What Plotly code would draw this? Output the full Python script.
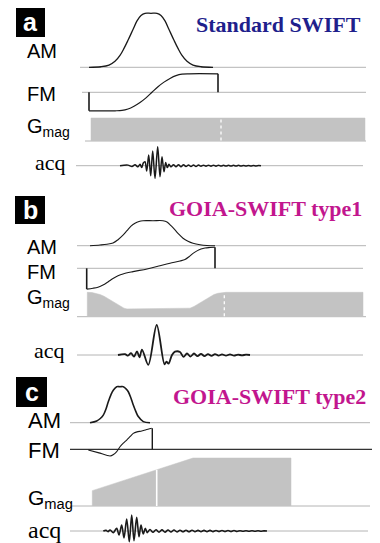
import plotly.graph_objects as go

# reference canvas and page offset (browser body margin)
REF_W, REF_H = 380, 543
OFF = 8
W, H = REF_W - OFF, REF_H - OFF

# ---------------- data (time in a.u., amplitudes normalised) ----------------
# Panel a : Standard SWIFT
a_am_t = [89, 101, 109, 115, 120, 124, 128, 133, 137, 141, 145, 151, 157, 161, 165, 169, 174, 178, 182, 187, 193, 201, 213]
a_am_v = [0, 0.01, 0.04, 0.11, 0.22, 0.35, 0.5, 0.70, 0.86, 0.96, 1.0, 1.0, 1.0, 0.96, 0.86, 0.70, 0.5, 0.35, 0.22, 0.11, 0.04, 0.01, 0]

a_fm_t = [89, 115, 122, 128, 134, 140, 146, 152, 158, 164, 170, 176, 182, 189, 218]
a_fm_v = [-1, -1, -0.98, -0.9, -0.75, -0.55, -0.3, 0, 0.3, 0.55, 0.75, 0.9, 0.98, 1, 1]

a_g_t = [91, 91, 365, 365]
a_g_v = [0, 1, 1, 0]
a_g_mark = 221

a_acq_t = [120, 128, 132, 135, 138, 140, 141.7, 143.3, 145, 146.7, 148.7, 150.7, 152.7, 155, 157.7, 160, 162, 164, 165.7, 167.3, 169,
           171, 173.5, 176, 178.5, 181, 183.5, 186, 188.5, 191, 193.5, 196, 198.5, 201, 203.5, 206, 208.5, 211, 213.5, 216, 218.5,
           221, 223.5, 226, 228.5, 231, 233.5, 236, 238.5, 241, 243.5, 246, 248.5, 251, 253.5, 256, 258.5, 261]
a_acq_v = [0, 0.03, -0.04, 0.05, -0.06, 0.08, -0.1, 0.14, 0.21, -0.28, 0.56, -0.53, 0.77, -0.67, 1.0, -0.58, 0.47, -0.32, 0.17, -0.1, 0.07,
           -0.06, 0.05, -0.05, 0.05, -0.05, 0.05, -0.04, 0.04, -0.04, 0.04, -0.04, 0.04, -0.03, 0.03, -0.03, 0.03, -0.03, 0.03, -0.03, 0.03,
           -0.02, 0.02, -0.02, 0.02, -0.02, 0.02, -0.02, 0.02, -0.02, 0.01, -0.01, 0.01, -0.01, 0.01, -0.01, 0.005, 0]

# Panel b : GOIA-SWIFT type1
b_am_t = [90, 100, 107, 113, 118, 123, 127, 131, 135, 139, 143, 153, 163, 167, 171, 175, 179, 183, 188, 193, 200, 207, 215]
b_am_v = [0, 0.03, 0.06, 0.11, 0.24, 0.42, 0.6, 0.78, 0.9, 0.97, 1.0, 1.0, 1.0, 0.95, 0.8, 0.63, 0.45, 0.3, 0.18, 0.1, 0.04, 0.01, 0]

b_fm_t = [86.7, 93, 98, 103, 108, 113, 118, 123, 133, 147, 160, 170, 180, 185, 189, 193, 197, 201, 205, 210, 215]
b_fm_v = [-0.99, -0.95, -0.9, -0.8, -0.65, -0.49, -0.36, -0.27, -0.16, -0.03, 0.12, 0.24, 0.35, 0.42, 0.55, 0.71, 0.83, 0.92, 0.97, 0.99, 1.0]

b_g_t = [87.3, 87.3, 92, 96, 100, 104, 108, 112, 116, 120, 124, 127, 186.7, 190, 194, 198, 202, 206, 210, 214, 218, 222, 226, 363, 363]
b_g_v = [0, 1.0, 0.99, 0.96, 0.91, 0.84, 0.74, 0.63, 0.52, 0.42, 0.35, 0.32, 0.32, 0.35, 0.42, 0.52, 0.63, 0.74, 0.84, 0.91, 0.96, 0.99, 1.0, 1.0, 0]
b_g_mark = 224.3

b_acq_t = [118, 125, 128, 131, 134, 137, 139.5, 142, 148.3, 156.7, 164.5, 166.5, 168.5, 172, 175, 180, 183.5, 187, 190.5, 194, 197.5,
           201, 204.5, 208, 211.5, 215, 218.5, 222, 226, 230, 234, 238, 242, 246, 250]
b_acq_v = [0, 0.03, -0.02, 0.06, -0.05, 0.12, -0.08, 0.18, -0.33, 1.0, -0.31, -0.22, -0.29, 0.0, 0.11, 0.1, -0.06, 0.05, -0.05, 0.05, -0.04,
           0.04, -0.04, 0.03, -0.03, 0.03, -0.02, 0.02, -0.02, 0.02, -0.02, 0.01, -0.01, 0.01, 0]

# Panel c : GOIA-SWIFT type2
c_am_t = [90, 96.7, 100, 103.3, 106, 108.3, 111, 113.3, 116.7, 120, 123.3, 126, 128.3, 131, 133.3, 136, 138.3, 143.3, 150]
c_am_v = [0, 0.05, 0.11, 0.21, 0.38, 0.58, 0.78, 0.9, 1.0, 1.0, 1.0, 0.94, 0.86, 0.68, 0.49, 0.3, 0.17, 0.03, 0]

c_fm_t = [88.3, 99, 110, 113.5, 116.7, 120, 123.3, 126.7, 130, 133.3, 137, 141.7, 146, 151.7]
c_fm_v = [-0.03, -0.17, -0.32, -0.25, -0.11, 0.12, 0.29, 0.44, 0.6, 0.76, 0.83, 0.87, 0.93, 1.0]

c_g_t = [92.3, 92.3, 193, 291, 291]
c_g_v = [0, 0.32, 1.0, 1.0, 0]
c_g_mark = 156.7
c_g_mark_v = 0.755

c_acq_t = [103.3, 106, 108, 110, 113.3, 116.7, 119, 121.7, 124, 126.7, 129.3, 131.7, 134, 136.7, 139, 141, 143.3, 145.3, 147.3,
           150, 153, 156, 159, 162, 165, 168, 171, 174, 177, 180, 183, 186, 189, 192, 195, 198, 201, 204, 207,
           210, 213, 216, 219, 222, 225, 228, 231, 234, 237, 240, 243, 246, 249, 252, 255, 258, 261, 264, 267]
c_acq_v = [0, 0.04, -0.04, 0.06, -0.1, 0.17, -0.25, 0.37, -0.44, 0.75, -0.67, 1.0, -0.6, 0.86, -0.36, 0.37, -0.19, 0.17, -0.1,
           0.09, -0.08, 0.08, -0.07, 0.07, -0.07, 0.06, -0.06, 0.06, -0.06, 0.05, -0.05, 0.05, -0.05, 0.05, -0.04, 0.04, -0.04, 0.04, -0.04,
           0.04, -0.04, 0.03, -0.03, 0.03, -0.03, 0.03, -0.03, 0.03, -0.03, 0.02, -0.02, 0.02, -0.02, 0.02, -0.02, 0.02, -0.02, 0.01, 0]

titles = ["Standard SWIFT", "GOIA-SWIFT type1", "GOIA-SWIFT type2"]
panel_letters = ["a", "b", "c"]
row_labels = ["AM", "FM", "G<sub>mag</sub>", "acq"]

# ---------------- layout helpers (positions in reference pixels) ----------------
# row -> (baseline px, px per unit, baseline start, baseline end)
rows = {
    "a_am": (67.3, 54, 80, 366), "a_fm": (92.3, 18.5, 82, 366), "a_g": (141, 23, 85, 366), "a_acq": (165.7, 19, 76, 363),
    "b_am": (245.7, 25, 77, 366), "b_fm": (268.3, 21, 77, 363), "b_g": (316.7, 24.4, 77, 366), "b_acq": (355, 30, 77, 363),
    "c_am": (422.7, 36, 70, 370), "c_fm": (449.3, 21, 70, 380), "c_g": (506, 48, 70, 370), "c_acq": (531, 16, 70, 368),
}
names = list(rows.keys())
axis_of = {}
fig = go.Figure()
layout = dict(width=W, height=H, margin=dict(l=0, r=0, t=0, b=0), paper_bgcolor="white", plot_bgcolor="white",
              showlegend=False, xaxis=dict(range=[OFF, REF_W], visible=False, fixedrange=True, domain=[0, 1]))
for i, n in enumerate(names):
    y0, s, _, _ = rows[n]
    key = "yaxis" if i == 0 else f"yaxis{i+1}"
    ax = dict(range=[-(REF_H - y0) / s, (y0 - OFF) / s], visible=False, fixedrange=True, domain=[0, 1])
    if i > 0:
        ax["overlaying"] = "y"
    layout[key] = ax
    axis_of[n] = "y" if i == 0 else f"y{i+1}"

def line(n, t, v, color="#1a1a1a", width=1.2, shape="linear", smooth=1.0, dash=None):
    fig.add_trace(go.Scatter(x=t, y=v, mode="lines", yaxis=axis_of[n], hoverinfo="skip",
                             line=dict(color=color, width=width, shape=shape, smoothing=smooth, dash=dash)))

def fill(n, t, v, color="#c3c3c3"):
    fig.add_trace(go.Scatter(x=t, y=v, mode="lines", fill="toself", fillcolor=color, yaxis=axis_of[n],
                             hoverinfo="skip", line=dict(color=color, width=0.5)))

# baselines
for n in names:
    _, _, xs, xe = rows[n]
    if n == "c_fm":
        line(n, [xs, xe], [0, 0], color="#333333", width=1.3)
    else:
        line(n, [xs, xe], [0, 0], color="#b4b4b4", width=1)

# gradient blocks
fill("a_g", a_g_t, a_g_v)
fill("b_g", b_g_t, b_g_v)
fill("c_g", c_g_t, c_g_v)
line("a_g", [a_g_mark, a_g_mark], [0.02, 0.98], color="white", width=1.3, dash="dot")
line("b_g", [b_g_mark, b_g_mark], [0.02, 0.98], color="white", width=1.3, dash="dot")
line("c_g", [c_g_mark, c_g_mark], [0.0, c_g_mark_v], color="white", width=1.6)

# AM
line("a_am", a_am_t, a_am_v, shape="spline", width=1.3)
line("b_am", b_am_t, b_am_v, shape="spline", width=1.1)
line("c_am", c_am_t, c_am_v, shape="spline", width=1.6)

# FM
line("a_fm", a_fm_t, a_fm_v, shape="spline", width=1.2)
line("a_fm", [a_fm_t[0], a_fm_t[0]], [0, a_fm_v[0]], width=1.6)
line("a_fm", [a_fm_t[-1], a_fm_t[-1]], [a_fm_v[-1], 0], width=1.6)
line("b_fm", b_fm_t, b_fm_v, shape="spline", width=1.1)
line("b_fm", [b_fm_t[0], b_fm_t[0]], [0, b_fm_v[0]], width=1.6)
line("b_fm", [b_fm_t[-1], b_fm_t[-1]], [b_fm_v[-1], 0], width=1.6)
line("c_fm", c_fm_t, c_fm_v, shape="spline", smooth=0.6, width=1.1)
line("c_fm", [c_fm_t[-1] + 0.6, c_fm_t[-1] + 0.6], [c_fm_v[-1], 0], width=1.4)

# acquisition
line("a_acq", a_acq_t, a_acq_v, shape="spline", smooth=0.9, width=1.5)
line("b_acq", b_acq_t, b_acq_v, shape="spline", smooth=0.9, width=1.8)
line("c_acq", c_acq_t, c_acq_v, shape="spline", smooth=0.9, width=1.6)

fig.update_layout(**layout)

def P(x, y):
    return (x - OFF) / W, 1 - (y - OFF) / H

shapes = []
annotations = []
boxes = [(16, 8, 45, 37), (15, 196, 45, 224), (16, 377, 47, 407)]
for (x0, y0, x1, y1), letter in zip(boxes, panel_letters):
    px0, py0 = P(x0, y0)
    px1, py1 = P(x1, y1)
    shapes.append(dict(type="rect", xref="paper", yref="paper", x0=px0, x1=px1, y0=py1, y1=py0,
                       fillcolor="black", line=dict(width=0)))
    cx, cy = P((x0 + x1) / 2, (y0 + y1) / 2)
    annotations.append(dict(x=cx, y=cy, xref="paper", yref="paper", text=f"<b>{letter}</b>", showarrow=False,
                            xanchor="center", yanchor="middle",
                            font=dict(family="Liberation Sans", size=25, color="white")))

title_pos = [(363, 24, "#1f1f8c"), (364, 208, "#c2168e"), (368, 396, "#c2168e")]
for (x, y, col), t in zip(title_pos, titles):
    px, py = P(x, y)
    annotations.append(dict(x=px, y=py, xref="paper", yref="paper", text=f"<b>{t}</b>", showarrow=False,
                            xanchor="right", yanchor="middle",
                            font=dict(family="Liberation Serif", size=22, color=col)))

# row labels: (x, y centre, size) per panel
label_pos = [
    [(25, 51, 20), (25, 94, 20), (25, 127, 20), (33, 162, 22)],
    [(25, 247, 20), (25, 272, 20), (25, 298, 20), (32, 350, 22)],
    [(26, 420, 22), (26, 450, 22), (26, 499, 21), (26, 530, 24)],
]
for panel in label_pos:
    for (x, y, sz), lab in zip(panel, row_labels):
        px, py = P(x, y)
        fam = "Liberation Serif" if lab == "acq" else "Liberation Sans"
        annotations.append(dict(x=px, y=py, xref="paper", yref="paper", text=lab, showarrow=False,
                                xanchor="left", yanchor="middle",
                                font=dict(family=fam, size=sz, color="black")))

fig.update_layout(shapes=shapes, annotations=annotations)
fig.write_html("out.html")
